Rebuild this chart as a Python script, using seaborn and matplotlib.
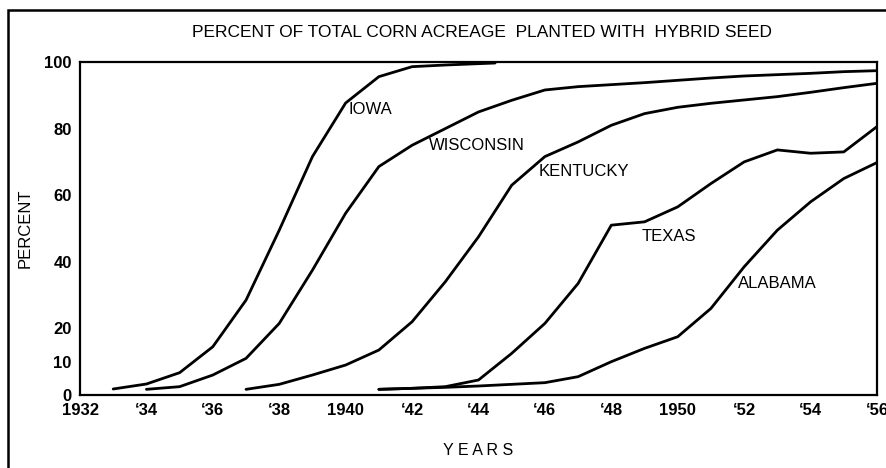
import numpy as np
import pandas as pd
import matplotlib
matplotlib.use('Agg')
import matplotlib.pyplot as plt
from matplotlib.patches import Rectangle
import seaborn as sns

# values (percent of corn acreage in hybrid seed)
iowa_years = [1933, 1934, 1935, 1936, 1937, 1938, 1939, 1940, 1941, 1942, 1943, 1944, 1944.5]
iowa_pct = [1.8, 3.3, 6.7, 14.5, 28.5, 49.5, 71.6, 87.7, 95.6, 98.6, 99.1, 99.5, 99.7]

wisc_years = list(range(1934, 1957))
wisc_pct = [1.7, 2.5, 6.0, 11.0, 21.5, 37.5, 54.6, 68.6, 75.0, 80.0, 85.0, 88.5, 91.6,
            92.6, 93.2, 93.8, 94.5, 95.2, 95.8, 96.2, 96.6, 97.1, 97.4]

kent_years = list(range(1937, 1957))
kent_pct = [1.7, 3.2, 6.0, 9.0, 13.5, 22.0, 34.0, 47.5, 63.0, 71.6, 76.0, 81.0, 84.5,
            86.4, 87.6, 88.6, 89.6, 90.9, 92.3, 93.6]

texas_years = list(range(1941, 1957))
texas_pct = [1.7, 2.0, 2.5, 4.5, 12.5, 21.5, 33.5, 51.0, 52.0, 56.5, 63.5, 70.0, 73.6,
             72.6, 73.0, 80.6]

alab_years = list(range(1941, 1957))
alab_pct = [1.7, 2.0, 2.3, 2.7, 3.2, 3.7, 5.5, 10.0, 14.0, 17.5, 26.0, 38.5, 49.5,
            58.0, 65.0, 69.8]

states = ['IOWA', 'WISCONSIN', 'KENTUCKY', 'TEXAS', 'ALABAMA']
# label anchor points (year, percent) for the curve names
label_x = [1940.1, 1942.5, 1945.8, 1948.9, 1951.8]
label_y = [85.6, 75.0, 67.0, 47.7, 33.6]

xticks = list(range(1932, 1957, 2))
xticklabels = ['1932', '\u201834', '\u201836', '\u201838', '1940', '\u201842', '\u201844',
               '\u201846', '\u201848', '1950', '\u201852', '\u201854', '\u201856']
yticks = [0, 10, 20, 40, 60, 80, 100]

frames = []
for name, yrs, vals in zip(states,
                           [iowa_years, wisc_years, kent_years, texas_years, alab_years],
                           [iowa_pct, wisc_pct, kent_pct, texas_pct, alab_pct]):
    frames.append(pd.DataFrame({'year': yrs, 'pct': vals, 'state': name}))
df = pd.concat(frames, ignore_index=True)

sns.set_style('white')
plt.rcParams['font.family'] = ['Liberation Sans', 'DejaVu Sans']
plt.rcParams['text.color'] = 'black'
plt.rcParams['axes.labelcolor'] = 'black'

fig = plt.figure(figsize=(8.87, 4.68), dpi=100)
ax = fig.add_axes([0.0902, 0.156, 0.8985, 0.7115])

sns.lineplot(data=df, x='year', y='pct', hue='state', palette=['black'] * 5,
             estimator=None, sort=False, legend=False, linewidth=2.0, ax=ax)

for name, lx, ly in zip(states, label_x, label_y):
    ax.text(lx, ly, name, fontsize=12, va='center', ha='left', color='black')

ax.set_xlim(1932, 1956)
ax.set_ylim(0, 100)
ax.set_xticks(xticks)
ax.set_xticklabels(xticklabels)
ax.set_yticks(yticks)
ax.tick_params(axis='both', direction='in', length=7, width=1.2, colors='black',
               labelsize=12, pad=6)
for lab in ax.get_xticklabels() + ax.get_yticklabels():
    lab.set_fontweight('bold')
ax.set_xlabel('Y E A R S', fontsize=11.5, labelpad=18)
ax.set_ylabel('PERCENT', fontsize=12, labelpad=8)

for sp in ax.spines.values():
    sp.set_visible(True)
    sp.set_color('black')
    sp.set_linewidth(1.6)

fig.text(0.543, 0.93, 'PERCENT OF TOTAL CORN ACREAGE  PLANTED WITH  HYBRID SEED',
         ha='center', va='center', fontsize=12.5)

# outer frame of the figure panel
fig.patches.append(Rectangle((0.009, -0.1), 1.1, 1.079, transform=fig.transFigure,
                             fill=False, edgecolor='black', linewidth=1.8))

fig.savefig('out.png', dpi=100)
